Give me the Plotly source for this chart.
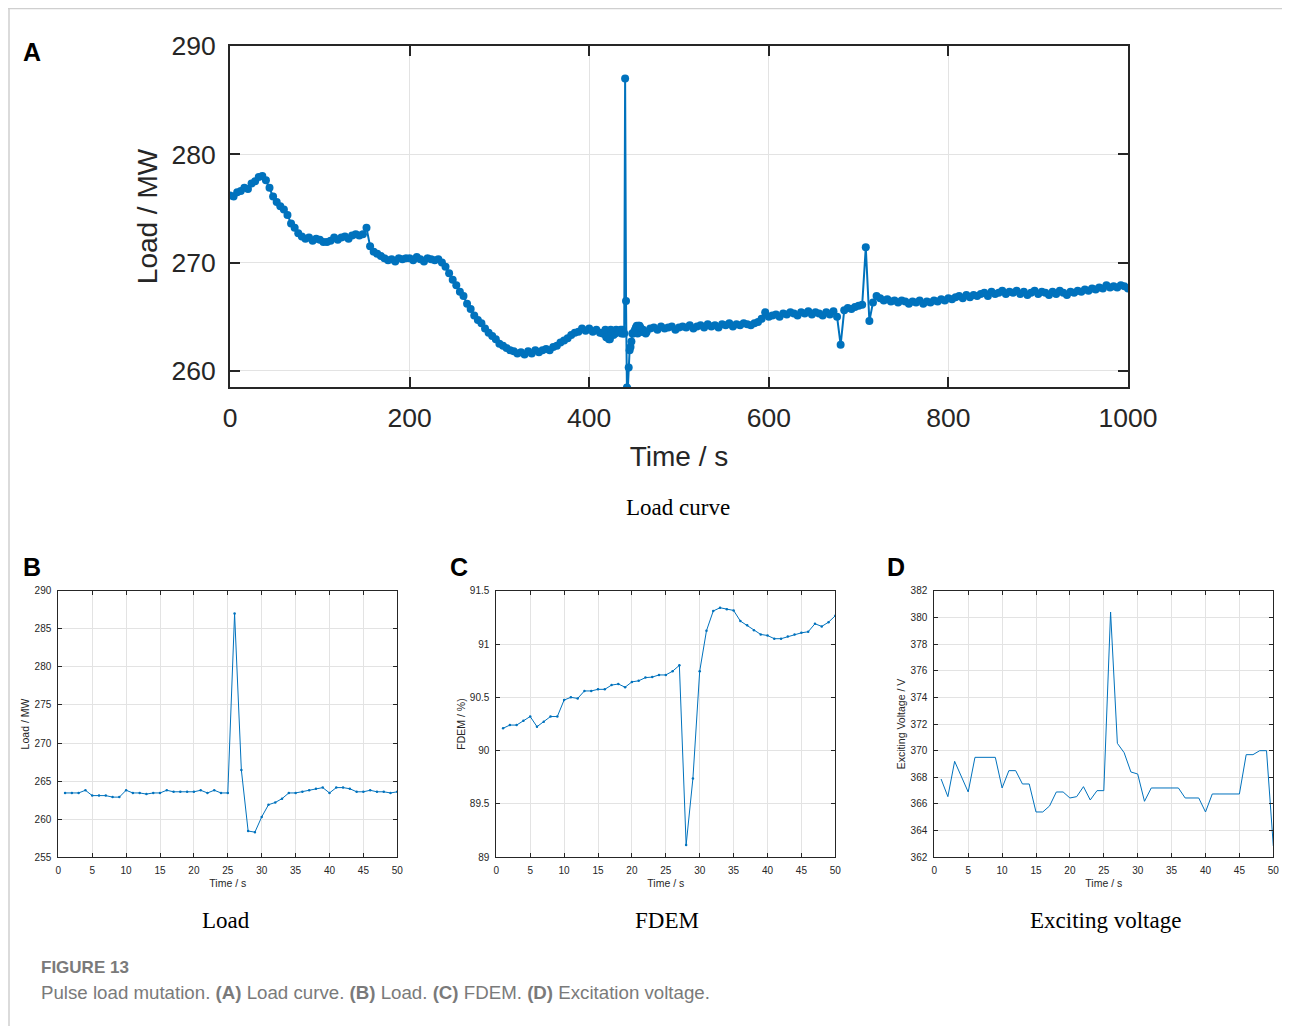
import plotly.graph_objects as go

# page body margin of 8 px is compensated in px_x / px_y
OFF = 8
W, H = 1290 - OFF, 1026 - OFF

# ---------------- Panel A data (load curve) ----------------
a_t1 = list(range(0, 416, 4))
a_v1 = [276.2, 276.1, 276.5, 276.6, 276.9, 276.8, 277.3, 277.5, 277.9, 278.0,
        277.6, 276.9, 276.1, 275.6, 275.2, 274.9, 274.4, 273.6, 273.2, 272.7,
        272.4, 272.2, 272.3, 272.0, 272.2, 272.1, 271.9, 271.9, 272.0, 272.3,
        272.1, 272.3, 272.4, 272.2, 272.5, 272.6, 272.5, 272.6, 273.2, 271.5,
        271.0, 270.8, 270.6, 270.4, 270.2, 270.3, 270.1, 270.4, 270.3, 270.4,
        270.4, 270.2, 270.5, 270.3, 270.1, 270.4, 270.3, 270.2, 270.3, 270.0,
        269.6, 269.0, 268.4, 267.9, 267.3, 266.9, 266.2, 265.7, 265.1, 264.7,
        264.4, 263.9, 263.5, 263.2, 262.9, 262.5, 262.3, 262.1, 261.9, 261.8,
        261.6, 261.7, 261.5, 261.8, 261.6, 261.9, 261.7, 261.9, 262.0, 261.9,
        262.2, 262.3, 262.6, 262.8, 263.0, 263.3, 263.5, 263.6, 263.9, 263.7,
        263.9, 263.6, 263.8, 263.5]
a_t3 = list(range(468, 1001, 4))
a_v3 = [263.9, 264.0, 263.8, 264.1, 263.9, 264.0, 264.1, 263.8, 264.0, 264.1,
        264.0, 264.2, 263.9, 264.1, 264.2, 264.0, 264.3, 264.1, 264.2, 264.0,
        264.3, 264.2, 264.4, 264.1, 264.3, 264.2, 264.4, 264.3, 264.2, 264.4,
        264.5, 264.8, 265.4, 265.0, 265.1, 265.2, 265.0, 265.3, 265.2, 265.4,
        265.3, 265.1, 265.4, 265.3, 265.5, 265.2, 265.4, 265.3, 265.1, 265.4,
        265.2, 265.5, 265.0, 262.4, 265.6, 265.8, 265.7, 265.9, 266.0, 266.1,
        271.4, 264.6, 266.3, 266.9, 266.7, 266.5, 266.6, 266.4, 266.5, 266.3,
        266.5, 266.4, 266.2, 266.4, 266.3, 266.5, 266.2, 266.4, 266.3, 266.5,
        266.4, 266.6, 266.5, 266.7, 266.6, 266.8, 266.9, 266.7, 267.0, 266.8,
        267.0, 266.9, 267.1, 267.2, 266.9, 267.3, 267.1, 267.2, 267.4, 267.1,
        267.3, 267.2, 267.4, 267.1, 267.3, 267.0, 267.2, 267.4, 267.1, 267.3,
        267.2, 267.0, 267.3, 267.1, 267.4, 267.2, 267.0, 267.3, 267.2, 267.4,
        267.3, 267.5, 267.4, 267.6, 267.5, 267.7, 267.6, 267.9, 267.7, 267.8,
        267.7, 267.9, 267.8, 267.6]

# ---------------- Panels B, C, D (50 s window) ----------------
t_win = list(range(1, 51))
load_b = [263.45, 263.45, 263.45, 263.8, 263.1, 263.1, 263.1, 262.9, 262.9, 263.8,
          263.45, 263.45, 263.3, 263.45, 263.45, 263.8, 263.6, 263.6, 263.6, 263.6,
          263.8, 263.45, 263.8, 263.45, 263.45, 287.0, 266.45, 258.45, 258.3, 260.3,
          261.9, 262.2, 262.7, 263.45, 263.45, 263.6, 263.8, 264.0, 264.15, 263.45,
          264.15, 264.15, 264.0, 263.6, 263.6, 263.8, 263.6, 263.6, 263.45, 263.6]
fdem_c = [90.21, 90.24, 90.24, 90.28, 90.32, 90.225, 90.27, 90.32, 90.32, 90.475,
          90.50, 90.49, 90.56, 90.56, 90.575, 90.575, 90.615, 90.625, 90.595, 90.645,
          90.655, 90.685, 90.69, 90.71, 90.71, 90.745, 90.80, 89.115, 89.74, 90.745,
          91.125, 91.31, 91.34, 91.325, 91.315, 91.215, 91.175, 91.13, 91.09, 91.08,
          91.05, 91.05, 91.07, 91.09, 91.105, 91.115, 91.19, 91.165, 91.205, 91.265]
volt_d = [367.875, 366.55, 369.2, 368.05, 366.9, 369.5, 369.5, 369.5, 369.5, 367.2,
          368.5, 368.5, 367.5, 367.5, 365.4, 365.4, 365.85, 366.9, 366.9, 366.45,
          366.55, 367.3, 366.3, 367.0, 367.0, 380.4, 370.55, 369.85, 368.4, 368.25,
          366.2, 367.2, 367.2, 367.2, 367.2, 367.2, 366.45, 366.45, 366.45, 365.4,
          366.75, 366.75, 366.75, 366.75, 366.75, 369.7, 369.7, 370.0, 370.0, 362.85]

# the 50 s window of B sits at t = 415..464 of the load curve
offset_b = 414
a_t = a_t1 + [t + offset_b for t in t_win] + a_t3
a_v = a_v1 + load_b + a_v3

BLUE = "#0072BD"
GRID = "#e3e3e3"


def px_x(p):
    return (p - OFF) / W


def px_y(p):
    return 1 - (p - OFF) / H


fig = go.Figure()
fig.add_trace(go.Scatter(x=a_t, y=a_v, mode="lines+markers", xaxis="x", yaxis="y",
                         line=dict(color=BLUE, width=2),
                         marker=dict(color=BLUE, size=8), showlegend=False))
fig.add_trace(go.Scatter(x=t_win, y=load_b, mode="lines+markers", xaxis="x2", yaxis="y2",
                         line=dict(color=BLUE, width=1), marker=dict(color=BLUE, size=2.5),
                         showlegend=False))
fig.add_trace(go.Scatter(x=t_win, y=fdem_c, mode="lines+markers", xaxis="x3", yaxis="y3",
                         line=dict(color=BLUE, width=1), marker=dict(color=BLUE, size=2.5),
                         showlegend=False))
fig.add_trace(go.Scatter(x=t_win, y=volt_d, mode="lines", xaxis="x4", yaxis="y4",
                         line=dict(color=BLUE, width=1), showlegend=False))

SANS = "Liberation Sans, Arial, sans-serif"
SERIF = "Liberation Serif, Times New Roman, serif"

big_font = dict(family=SANS, size=26.5, color="#262626")
small_font = dict(family=SANS, size=10, color="#262626")


def ax(domain, rng, dtick, font, tlen, lw, standoff, anchor, title=None, tfont=None):
    d = dict(domain=domain, range=rng, dtick=dtick, tick0=0, showgrid=True, gridcolor=GRID,
             gridwidth=1, zeroline=False, showline=True, linecolor="#262626", linewidth=lw,
             mirror="ticks", ticks="inside", ticklen=tlen, tickwidth=lw, tickcolor="#262626",
             tickfont=font, anchor=anchor, ticklabelstandoff=standoff, fixedrange=True,
             automargin=False)
    if title:
        d["title"] = dict(text=title, font=tfont, standoff=standoff)
    return d


layout = dict(width=W, height=H, margin=dict(l=0, r=0, t=0, b=0, autoexpand=False),
              paper_bgcolor="white", plot_bgcolor="white", showlegend=False,
              template="none")

# Panel A
layout["xaxis"] = ax([px_x(230), px_x(1128)], [0, 1000], 200, big_font, 10, 2, 6, "y",
                     "Time / s", dict(family=SANS, size=28, color="#262626"))
layout["yaxis"] = ax([px_y(387), px_y(46)], [258.5, 290], 10, big_font, 10, 2, 7, "x",
                     "Load / MW", dict(family=SANS, size=28, color="#262626"))
layout["xaxis"]["title"]["standoff"] = 15
layout["yaxis"]["title"]["standoff"] = 6

# Panels B-D
ydom = [px_y(857.3), px_y(590.7)]
tf = dict(family=SANS, size=10.5, color="#262626")
layout["xaxis2"] = ax([px_x(58.3), px_x(397.3)], [0, 50], 5, small_font, 4, 1, 4, "y2", "Time / s", tf)
layout["yaxis2"] = ax(ydom, [255, 290], 5, small_font, 4, 1, 4, "x2", "Load / MW", tf)
layout["xaxis3"] = ax([px_x(496.3), px_x(835.3)], [0, 50], 5, small_font, 4, 1, 4, "y3", "Time / s", tf)
layout["yaxis3"] = ax(ydom, [89, 91.5], 0.5, small_font, 4, 1, 4, "x3", "FDEM / %)", tf)
layout["xaxis4"] = ax([px_x(934.3), px_x(1273.3)], [0, 50], 5, small_font, 4, 1, 4, "y4", "Time / s", tf)
layout["yaxis4"] = ax(ydom, [362, 382], 2, small_font, 4, 1, 4, "x4", "Exciting Voltage / V", tf)
for k in ["xaxis2", "xaxis3", "xaxis4"]:
    layout[k]["title"]["standoff"] = 4
for k in ["yaxis2", "yaxis3", "yaxis4"]:
    layout[k]["title"]["standoff"] = 2
layout["yaxis3"]["tickvals"] = [89, 89.5, 90, 90.5, 91, 91.5]
layout["yaxis3"]["ticktext"] = ["89", "89.5", "90", "90.5", "91", "91.5"]

fig.update_layout(**layout)


def note(text, x, y, font, xanchor="center", yanchor="middle"):
    fig.add_annotation(text=text, x=px_x(x), y=px_y(y), xref="paper", yref="paper",
                       showarrow=False, font=font, xanchor=xanchor, yanchor=yanchor)


letter_font = dict(family=SANS, size=25, color="black")
note("<b>A</b>", 21, 52, letter_font, "left")
note("<b>B</b>", 21, 567, letter_font, "left")
note("<b>C</b>", 448, 567, letter_font, "left")
note("<b>D</b>", 885, 567, letter_font, "left")

cap_font = dict(family=SERIF, size=23, color="black")
note("Load curve", 678, 507, cap_font)
note("Load", 226, 920, cap_font)
note("FDEM", 667, 920, cap_font)
note("Exciting voltage", 1105, 920, cap_font)

note("<b>FIGURE 13</b>", 39, 967, dict(family=SANS, size=17, color="#7a7a7a"), "left")
note("Pulse load mutation. <b>(A)</b> Load curve. <b>(B)</b> Load. <b>(C)</b> FDEM. "
     "<b>(D)</b> Excitation voltage.", 39, 992, dict(family=SANS, size=18.7, color="#7a7a7a"), "left")

# outer frame lines of the figure panel
fig.add_shape(type="line", xref="paper", yref="paper", x0=0, x1=1, y0=px_y(8.5), y1=px_y(8.5),
              line=dict(color="#cfcfcf", width=1.5))
fig.add_shape(type="line", xref="paper", yref="paper", x0=px_x(9), x1=px_x(9), y0=0, y1=px_y(8.5),
              line=dict(color="#cfcfcf", width=1.5))

fig.write_html("out.html")
